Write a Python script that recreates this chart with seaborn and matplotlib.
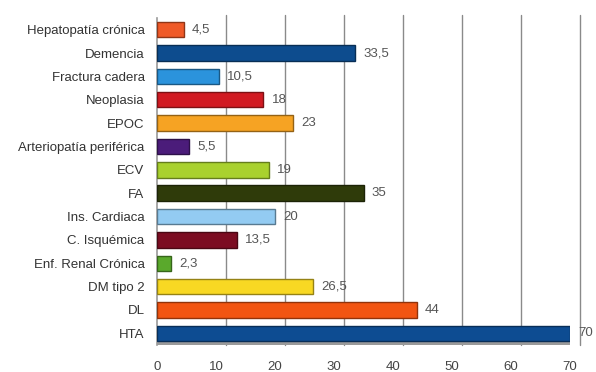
import matplotlib
matplotlib.use("Agg")
import matplotlib.pyplot as plt
import matplotlib.transforms as mtransforms
import seaborn as sns
import pandas as pd

categories = ["Hepatopatía crónica", "Demencia", "Fractura cadera", "Neoplasia", "EPOC",
              "Arteriopatía periférica", "ECV", "FA", "Ins. Cardiaca", "C. Isquémica",
              "Enf. Renal Crónica", "DM tipo 2", "DL", "HTA"]
values = [4.5, 33.5, 10.5, 18, 23, 5.5, 19, 35, 20, 13.5, 2.3, 26.5, 44, 70]
value_labels = ["4,5", "33,5", "10,5", "18", "23", "5,5", "19", "35", "20", "13,5",
                "2,3", "26,5", "44", "70"]
colors = ["#f05a28", "#0d4c8e", "#2b93dc", "#d11a22", "#f6a323", "#4b1c7a", "#a9d12e",
          "#2f3b0a", "#93cbf2", "#7c0c22", "#5aa92c", "#f8d823", "#f25512", "#0d4c92"]
xticks = [0, 10, 20, 30, 40, 50, 60, 70]

sns.set_style("white")
plt.rcParams["font.family"] = ["Liberation Sans", "DejaVu Sans"]

df = pd.DataFrame({"cat": categories, "val": values})

fig = plt.figure(figsize=(5.96, 3.72), dpi=100)
ax = fig.add_axes([157 / 596, 1 - 345 / 372, (570 - 157) / 596, (345 - 18) / 372])

sns.barplot(data=df, y="cat", x="val", hue="cat", palette=colors, orient="h",
            width=0.66, saturation=1, legend=False, ax=ax, zorder=3)

# darker edges to mimic 3D shading
for patch, c in zip(ax.patches, colors):
    r, g, b, _ = matplotlib.colors.to_rgba(c)
    patch.set_edgecolor((r * 0.6, g * 0.6, b * 0.6))
    patch.set_linewidth(1.0)

ax.set_xlim(0, 70)
ax.set_ylim(13.5, -0.5)

# gridlines shifted right (3D back wall effect)
offset = mtransforms.ScaledTranslation(10 / 100, 0, fig.dpi_scale_trans)
gtrans = ax.get_xaxis_transform() + offset
for t in xticks[1:]:
    ax.plot([t, t], [0, 1.01], color="#8a8a8a", lw=1.0, zorder=1,
            transform=gtrans, clip_on=False)

# floor
ax.axhspan(13.33, 13.5, color="#9a9a9a", zorder=2)

for s in ["top", "right", "bottom"]:
    ax.spines[s].set_visible(False)
ax.spines["left"].set_color("#9a9a9a")
ax.spines["left"].set_linewidth(1.2)

ax.set_xticks(xticks)
ax.set_xticklabels([str(t) for t in xticks])
ax.tick_params(axis="x", length=0, pad=11.5, labelsize=9.5, labelcolor="#444444")
ax.tick_params(axis="y", length=0, pad=9, labelsize=9.5, labelcolor="#333333")
ax.set_xlabel("")
ax.set_ylabel("")

for i, (v, lab) in enumerate(zip(values, value_labels)):
    ax.annotate(lab, xy=(v, i), xytext=(6, 0), textcoords="offset points",
                va="center", ha="left", fontsize=9.5, color="#555555", zorder=5)

fig.savefig("out.png", dpi=100)
